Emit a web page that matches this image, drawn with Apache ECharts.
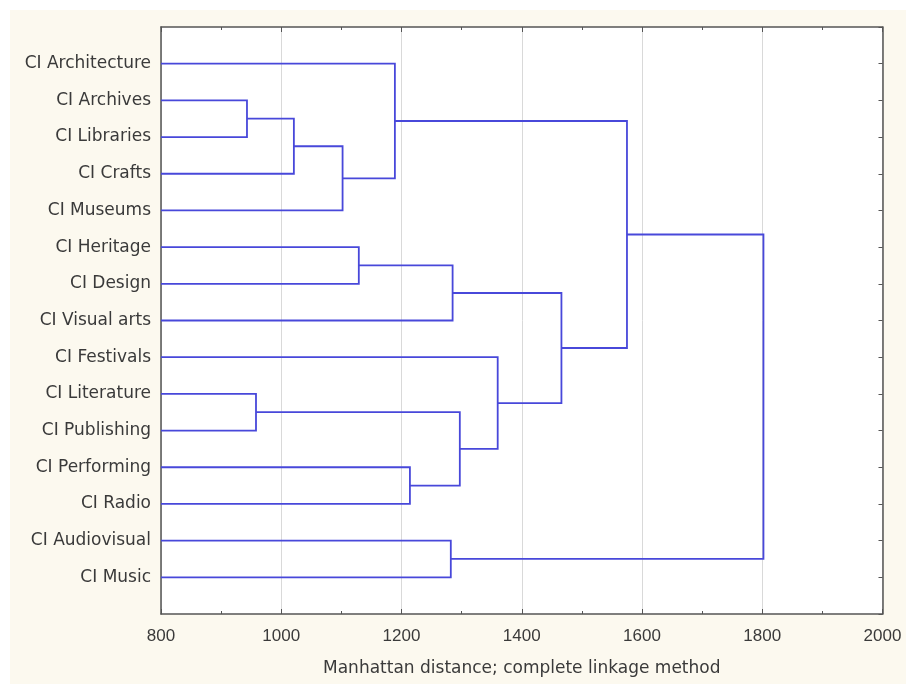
<!DOCTYPE html>
<html>
<head>
<meta charset="utf-8">
<script src="https://cdn.jsdelivr.net/npm/echarts@6/dist/echarts.min.js"></script>
<style>
  html, body { margin: 0; padding: 0; background: #ffffff; }
  #chart { width: 906px; height: 684px; }
</style>
</head>
<body>
<div id="chart"></div>
<script>
// Leaves of the dendrogram, top to bottom
const leafNames = [
  'CI Architecture', 'CI Archives', 'CI Libraries', 'CI Crafts', 'CI Museums',
  'CI Heritage', 'CI Design', 'CI Visual arts', 'CI Festivals', 'CI Literature',
  'CI Publishing', 'CI Performing', 'CI Radio', 'CI Audiovisual', 'CI Music'
];

// Linkage steps: node ids 0..14 are leaves, merge k creates node 15 + k
const mergeLeft   = [1, 9, 15, 17, 5, 0, 11, 13, 19, 16, 8, 23, 20, 27];
const mergeRight  = [2, 10, 3, 4, 6, 18, 12, 14, 7, 21, 24, 25, 26, 22];
const mergeHeight = [943, 958, 1021, 1102, 1129, 1189, 1214, 1282, 1285, 1297, 1360, 1466, 1575, 1802];

// Distance axis ticks
const distanceTicks = [800, 1000, 1200, 1400, 1600, 1800, 2000];

const axisMin = distanceTicks[0];
const axisMax = distanceTicks[distanceTicks.length - 1];
const tickStep = distanceTicks[1] - distanceTicks[0];

// Node positions: y = leaf slot (1-based), x = merge distance
const nodeY = [];
const nodeX = [];
leafNames.forEach((_, i) => { nodeY[i] = i + 1; nodeX[i] = axisMin; });

const branches = mergeHeight.map((h, k) => {
  const a = mergeLeft[k], b = mergeRight[k];
  const id = leafNames.length + k;
  nodeY[id] = (nodeY[a] + nodeY[b]) / 2;
  nodeX[id] = h;
  return {
    coords: [
      [nodeX[a], nodeY[a]],
      [h, nodeY[a]],
      [h, nodeY[b]],
      [nodeX[b], nodeY[b]]
    ]
  };
});

const textColor = '#3a3a3a';
const axisColor = '#555555';
const labelFont = 'DejaVu Sans';
const numberFont = 'Liberation Sans';

const chart = echarts.init(document.getElementById('chart'), null, { renderer: 'canvas' });

const frameAxis = (position) => ({
  type: 'value',
  position: position,
  min: axisMin, max: axisMax, interval: tickStep,
  axisLine: { show: true, onZero: false, lineStyle: { color: axisColor, width: 1.5 } },
  axisTick: { show: true, inside: true, length: 5, lineStyle: { color: axisColor } },
  minorTick: { show: true, splitNumber: 2, length: 3, lineStyle: { color: axisColor } },
  splitLine: { show: false },
  axisLabel: { show: false }
});

const bottomAxis = Object.assign(frameAxis('bottom'), {
  name: 'Manhattan distance; complete linkage method',
  nameLocation: 'middle',
  nameGap: 46,
  nameTextStyle: { color: textColor, fontFamily: labelFont, fontSize: 17 },
  splitLine: { show: true, lineStyle: { color: '#d9d9d9', width: 1 } },
  axisLabel: {
    show: true, color: textColor, fontFamily: numberFont, fontSize: 17, margin: 14,
    formatter: v => String(v)
  }
});

chart.setOption({
  animation: false,
  backgroundColor: '#ffffff',
  graphic: [{
    type: 'rect',
    left: 10, top: 10, z: -100,
    shape: { width: 896, height: 674 },
    style: { fill: '#fcf9ef' },
    silent: true
  }],
  grid: {
    left: 161, right: 23.5, top: 27, bottom: 70,
    show: true, backgroundColor: '#ffffff', borderWidth: 0
  },
  xAxis: [bottomAxis, frameAxis('top')],
  yAxis: [{
    type: 'value',
    position: 'left',
    inverse: true,
    min: 0, max: leafNames.length + 1, interval: 1,
    axisLine: { show: true, onZero: false, lineStyle: { color: axisColor, width: 1.5 } },
    axisTick: { show: false },
    splitLine: { show: false },
    axisLabel: {
      color: textColor, fontFamily: labelFont, fontSize: 17, margin: 10,
      formatter: v => leafNames[v - 1] || ''
    }
  }, {
    type: 'value',
    position: 'right',
    inverse: true,
    min: 0, max: leafNames.length + 1, interval: 1,
    axisLine: { show: true, onZero: false, lineStyle: { color: axisColor, width: 1.5 } },
    axisTick: { show: true, inside: true, length: 4, lineStyle: { color: axisColor } },
    splitLine: { show: false },
    axisLabel: { show: false }
  }],
  series: [{
    type: 'lines',
    coordinateSystem: 'cartesian2d',
    xAxisIndex: 0,
    yAxisIndex: 0,
    polyline: true,
    silent: true,
    lineStyle: { color: '#4848da', width: 1.8, opacity: 1 },
    data: branches
  }]
});
</script>
</body>
</html>
